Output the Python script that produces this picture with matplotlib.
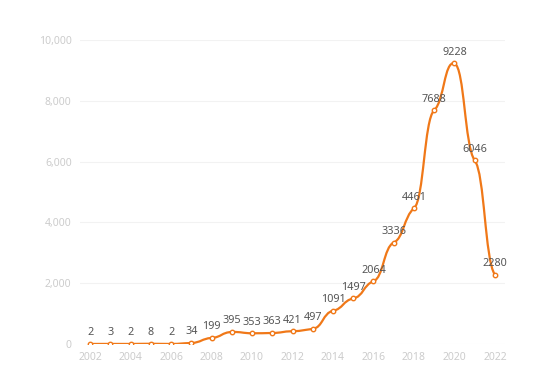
import matplotlib.pyplot as plt
from matplotlib.path import Path
from matplotlib.patches import PathPatch

years = [2002, 2003, 2004, 2005, 2006, 2007, 2008, 2009, 2010, 2011, 2012,
         2013, 2014, 2015, 2016, 2017, 2018, 2019, 2020, 2021, 2022]
counts = [2, 3, 2, 8, 2, 34, 199, 395, 353, 363, 421,
          497, 1091, 1497, 2064, 3336, 4461, 7688, 9228, 6046, 2280]
x_ticks = list(range(2002, 2023, 2))
y_ticks = [0, 2000, 4000, 6000, 8000, 10000]

LINE = '#f07818'
plt.rcParams['font.family'] = ['Noto Sans', 'DejaVu Sans']


def smooth_path(xs, ys, k=0.5, flat=0.25):
    # cubic bezier through every point; tangent slopes are damped so the
    # curve levels off at each point like the original chart
    n = len(xs)
    slopes = []
    for i in range(n):
        a, b = max(i - 1, 0), min(i + 1, n - 1)
        slopes.append((ys[b] - ys[a]) / (xs[b] - xs[a]) * flat)
    verts = [(xs[0], ys[0])]
    codes = [Path.MOVETO]
    for i in range(n - 1):
        dx = (xs[i + 1] - xs[i]) * k
        verts += [(xs[i] + dx, ys[i] + slopes[i] * dx),
                  (xs[i + 1] - dx, ys[i + 1] - slopes[i + 1] * dx),
                  (xs[i + 1], ys[i + 1])]
        codes += [Path.CURVE4] * 3
    return Path(verts, codes)


fig = plt.figure(figsize=(5.44, 3.84), dpi=100)
ax = fig.add_axes([80 / 544, 40 / 384, 425 / 544, 304 / 384])

ax.add_patch(PathPatch(smooth_path(years, counts), facecolor='none',
                       edgecolor=LINE, lw=1.6, zorder=3))
ax.plot(years, counts, linestyle='none', marker='o', markersize=3.2,
        markerfacecolor='white', markeredgecolor=LINE, markeredgewidth=1,
        zorder=4)

for x, y in zip(years, counts):
    ax.annotate(str(y), (x, y), xytext=(0, 4), textcoords='offset points',
                ha='center', va='bottom', fontsize=7.8, color='#555555',
                zorder=5)

ax.set_xlim(2001.5, 2022.5)
ax.set_ylim(0, 10000)
ax.set_xticks(x_ticks)
ax.set_yticks(y_ticks)
ax.set_yticklabels([f'{v:,}' for v in y_ticks])
ax.tick_params(length=0, labelsize=7.5, labelcolor='#cccccc', pad=6)
ax.grid(axis='y', color='#f2f2f2', lw=0.8)
ax.set_axisbelow(True)
for s in ax.spines.values():
    s.set_visible(False)

fig.savefig('out.png', dpi=100)
